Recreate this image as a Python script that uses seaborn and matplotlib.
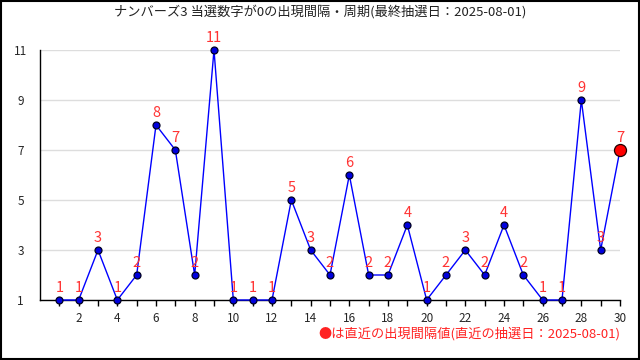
import pandas as pd
import numpy as np
import matplotlib
matplotlib.use("Agg")
import matplotlib.pyplot as plt
import seaborn as sns

# intervals between appearances of digit 0 (Numbers3), oldest -> latest
draw_no = list(range(1, 31))
interval = [1, 1, 3, 1, 2, 8, 7, 2, 11, 1, 1, 1, 5, 3, 2, 6, 2, 2, 4, 1,
            2, 3, 2, 4, 2, 1, 1, 9, 3, 7]
yticks = [1, 3, 5, 7, 9, 11]
xticks = list(range(2, 31, 2))

title = "ナンバーズ3 当選数字が0の出現間隔・周期(最終抽選日：2025-08-01)"
note = "●は直近の出現間隔値(直近の抽選日：2025-08-01)"

df = pd.DataFrame({"no": draw_no, "interval": interval})

sns.set_style("white")
plt.rcParams['font.family'] = ['Noto Sans CJK JP', 'DejaVu Sans']

fig = plt.figure(figsize=(6.4, 3.6), dpi=100)
ax = fig.add_axes([40 / 640, 1 - 300 / 360, 580 / 640, 250 / 360])

sns.lineplot(data=df, x="no", y="interval", ax=ax, color="#0000ff", lw=1,
             marker="o", markersize=5, markerfacecolor="#0000dd",
             markeredgecolor="#000022", markeredgewidth=0.9, zorder=3)
# latest value in red
last = df.iloc[[-1]]
sns.scatterplot(data=last, x="no", y="interval", ax=ax, color="#ff0000",
                s=75, edgecolor="#220000", linewidth=0.9, zorder=4, legend=False)
for ln in ax.lines:
    ln.set_clip_on(False)
for c in ax.collections:
    c.set_clip_on(False)

for xv, yv in zip(draw_no, interval):
    ax.annotate(str(yv), (xv, yv), xytext=(0, 3.5), textcoords="offset points",
                ha="center", va="bottom", color="#ff3333", fontsize=10.5, zorder=5)

ax.set_xlim(0, 30)
ax.set_ylim(1, 11)
ax.set_yticks(yticks)
ax.set_xticks(xticks)
ax.set_xticks(draw_no, minor=True)
ax.tick_params(axis="x", which="both", direction="out", length=4, width=1,
               labelsize=8.5, color="black", pad=5, bottom=True)
ax.tick_params(axis="y", length=0, labelsize=8.5, pad=14)
for t in ax.get_yticklabels():
    t.set_horizontalalignment("center")
ax.yaxis.grid(True, color="#dddddd", lw=1)
ax.set_axisbelow(True)
for s in ["top", "right"]:
    ax.spines[s].set_visible(False)
for s in ["left", "bottom"]:
    ax.spines[s].set_color("black")
    ax.spines[s].set_linewidth(1)
ax.set_xlabel("")
ax.set_ylabel("")

fig.text(0.5, 1 - 12 / 360, title, ha="center", va="center", fontsize=9.5, color="#222222")
fig.text(620 / 640, 1 - 334 / 360, note, ha="right", va="center", fontsize=9.5, color="#ff2222")

# outer frame
fig.patches.append(plt.Rectangle((0.001, 0.002), 0.997, 0.996, transform=fig.transFigure,
                                 fill=False, edgecolor="black", lw=1.5))

fig.savefig("out.png", dpi=100)
